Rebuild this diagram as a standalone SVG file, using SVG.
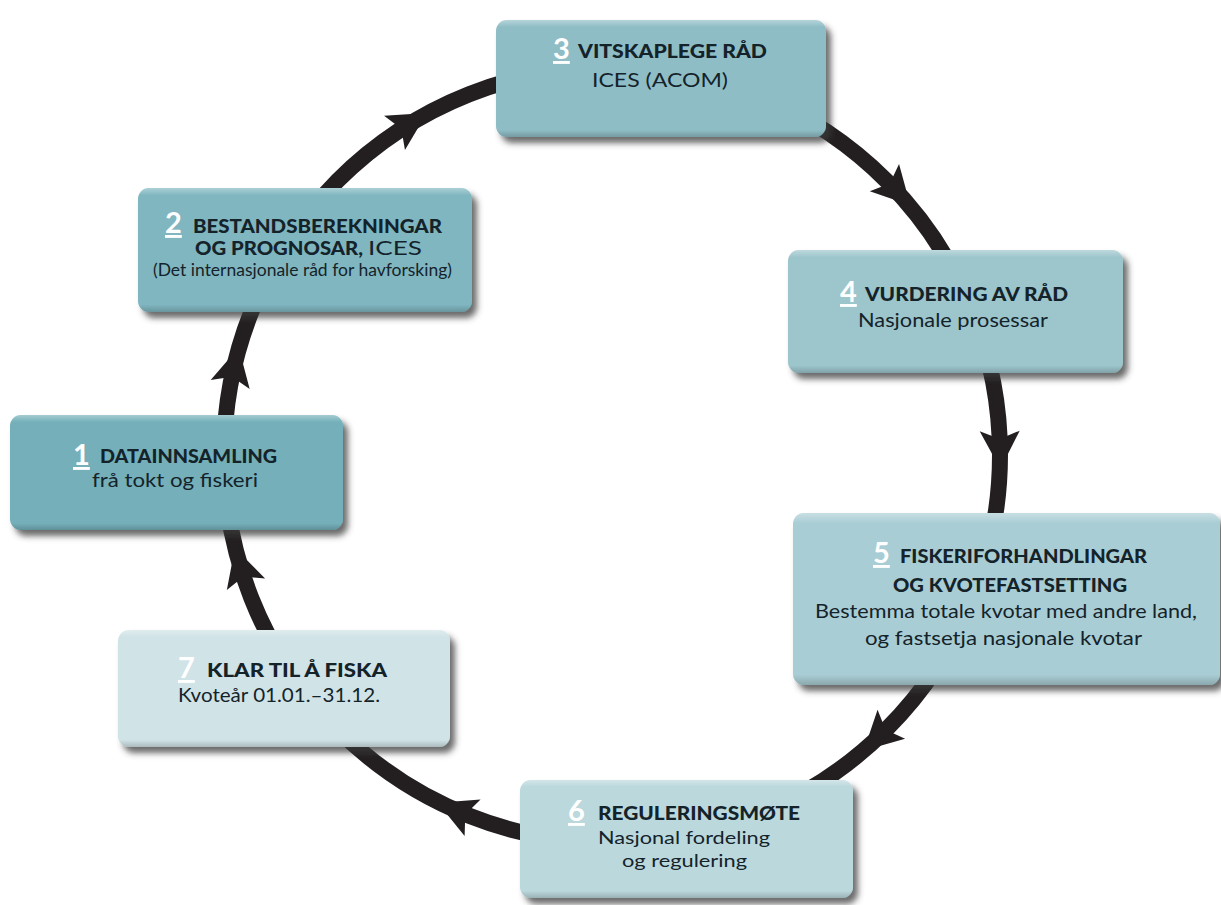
<svg xmlns="http://www.w3.org/2000/svg" xmlns:xlink="http://www.w3.org/1999/xlink" width="1221" height="905" viewBox="0 0 1221 905">
<defs>
<filter id="sh" x="-10%" y="-10%" width="125%" height="135%">
<feDropShadow dx="5" dy="6" stdDeviation="3" flood-color="#3a3a3a" flood-opacity="0.75"/>
</filter>
<linearGradient id="bev" x1="0" y1="0" x2="0" y2="1">
<stop offset="0" stop-color="#ffffff" stop-opacity="0.35"/>
<stop offset="0.06" stop-color="#ffffff" stop-opacity="0"/>
<stop offset="0.94" stop-color="#000000" stop-opacity="0"/>
<stop offset="1" stop-color="#000000" stop-opacity="0.18"/>
</linearGradient>
<path id="ah" d="M21 0 L-17 -20 L-9 0 L-17 20 Z" fill="#231f20"/>
</defs>
<style>
.box{filter:url(#sh)}
.t{font-family:Lato,"Liberation Sans",sans-serif;font-weight:900;font-size:19px;fill:#14232a}
.s{font-family:Lato,"Liberation Sans",sans-serif;font-weight:400;font-size:19px;fill:#14232a}
.n{font-family:Lato,"Liberation Sans",sans-serif;font-weight:700;font-size:29px;fill:#ffffff;text-decoration:underline}
</style>
<rect width="1221" height="905" fill="#ffffff"/>
<g id="connectors">
<circle cx="612" cy="455" r="388" fill="none" stroke="#231f20" stroke-width="16"/>
<use xlink:href="#ah" transform="translate(241,568) rotate(253)"/>
<use xlink:href="#ah" transform="translate(234,368) rotate(283)"/>
<use xlink:href="#ah" transform="translate(409,124) rotate(328.5)"/>
<use xlink:href="#ah" transform="translate(896,190) rotate(47)"/>
<use xlink:href="#ah" transform="translate(1000,448) rotate(89)"/>
<use xlink:href="#ah" transform="translate(879,736) rotate(136.5)"/>
<use xlink:href="#ah" transform="translate(457,811) rotate(203.5)"/>
</g>
<g id="node3">
<rect class="box" x="496" y="20" width="330" height="117" rx="11" fill="#8fbdc6"/>
<rect x="496" y="20" width="330" height="117" rx="11" fill="url(#bev)"/>
<text class="n" x="553" y="59" textLength="19">3</text>
<text class="t" x="578" y="58" textLength="189" lengthAdjust="spacingAndGlyphs">VITSKAPLEGE RÅD</text>
<text class="s" x="592" y="87" textLength="136" lengthAdjust="spacingAndGlyphs">ICES (ACOM)</text>
</g>
<g id="node2">
<rect class="box" x="138" y="188" width="334" height="124" rx="11" fill="#80b6c0"/>
<rect x="138" y="188" width="334" height="124" rx="11" fill="url(#bev)"/>
<text class="n" x="165" y="233" textLength="17">2</text>
<text class="t" x="193" y="233" textLength="249" lengthAdjust="spacingAndGlyphs">BESTANDSBEREKNINGAR</text>
<text class="t" x="195" y="255" textLength="168" lengthAdjust="spacingAndGlyphs">OG PROGNOSAR,</text>
<text class="s" x="368" y="255" textLength="54" lengthAdjust="spacingAndGlyphs">ICES</text>
<text class="s" x="153" y="276" style="font-size:17px" textLength="299" lengthAdjust="spacingAndGlyphs">(Det internasjonale råd for havforsking)</text>
</g>
<g id="node1">
<rect class="box" x="10" y="415" width="333" height="115" rx="11" fill="#74b0ba"/>
<rect x="10" y="415" width="333" height="115" rx="11" fill="url(#bev)"/>
<text class="n" x="73" y="465" textLength="17">1</text>
<text class="t" x="100" y="463" textLength="177" lengthAdjust="spacingAndGlyphs">DATAINNSAMLING</text>
<text class="s" x="92" y="487" textLength="166" lengthAdjust="spacingAndGlyphs">frå tokt og fiskeri</text>
</g>
<g id="node7">
<rect class="box" x="118" y="630" width="332" height="117" rx="11" fill="#d0e3e7"/>
<rect x="118" y="630" width="332" height="117" rx="11" fill="url(#bev)"/>
<text class="n" x="178" y="678" textLength="19">7</text>
<text class="t" x="207" y="677" textLength="180" lengthAdjust="spacingAndGlyphs">KLAR TIL Å FISKA</text>
<text class="s" x="178" y="702" textLength="202" lengthAdjust="spacingAndGlyphs">Kvoteår 01.01.–31.12.</text>
</g>
<g id="node6">
<rect class="box" x="520" y="780" width="333" height="118" rx="11" fill="#bbd8dd"/>
<rect x="520" y="780" width="333" height="118" rx="11" fill="url(#bev)"/>
<text class="n" x="568" y="821" textLength="19">6</text>
<text class="t" x="598" y="820" textLength="202" lengthAdjust="spacingAndGlyphs">REGULERINGSMØTE</text>
<text class="s" x="598" y="844" style="font-size:18px" textLength="172" lengthAdjust="spacingAndGlyphs">Nasjonal fordeling</text>
<text class="s" x="622" y="867" style="font-size:18px" textLength="125" lengthAdjust="spacingAndGlyphs">og regulering</text>
</g>
<g id="node4">
<rect class="box" x="788" y="250" width="335" height="123" rx="11" fill="#9cc5cc"/>
<rect x="788" y="250" width="335" height="123" rx="11" fill="url(#bev)"/>
<text class="n" x="840" y="302" textLength="18">4</text>
<text class="t" x="865" y="301" textLength="203" lengthAdjust="spacingAndGlyphs">VURDERING AV RÅD</text>
<text class="s" x="858" y="327" textLength="190" lengthAdjust="spacingAndGlyphs">Nasjonale prosessar</text>
</g>
<g id="node5">
<rect class="box" x="793" y="513" width="427" height="172" rx="11" fill="#a9cdd4"/>
<rect x="793" y="513" width="427" height="172" rx="11" fill="url(#bev)"/>
<text class="n" x="873" y="563" textLength="17">5</text>
<text class="t" x="900" y="563" textLength="247" lengthAdjust="spacingAndGlyphs">FISKERIFORHANDLINGAR</text>
<text class="t" x="893" y="592" textLength="234" lengthAdjust="spacingAndGlyphs">OG KVOTEFASTSETTING</text>
<text class="s" x="815" y="618" textLength="382" lengthAdjust="spacingAndGlyphs">Bestemma totale kvotar med andre land,</text>
<text class="s" x="865" y="645" textLength="277" lengthAdjust="spacingAndGlyphs">og fastsetja nasjonale kvotar</text>
</g>
</svg>
